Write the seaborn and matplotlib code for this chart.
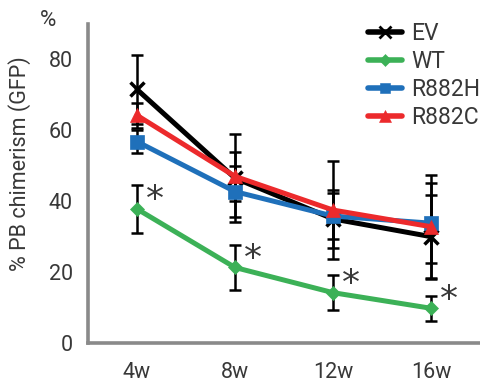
import matplotlib
matplotlib.use("Agg")
import matplotlib.pyplot as plt
import seaborn as sns
import pandas as pd
import numpy as np
from matplotlib.lines import Line2D

weeks = ["4w", "8w", "12w", "16w"]
groups = ["EV", "WT", "R882H", "R882C"]
ev = [71.5, 46.5, 35.0, 30.0]
ev_err = [9.6, 12.5, 8.2, 11.8]
wt = [37.8, 21.3, 14.2, 9.8]
wt_err = [6.9, 6.3, 4.9, 3.6]
r882h = [56.8, 42.7, 35.8, 33.8]
r882h_err = [3.3, 7.3, 6.4, 11.3]
r882c = [64.2, 47.0, 37.5, 32.8]
r882c_err = [3.5, 7.0, 13.7, 14.7]
significant = ["*", "*", "*", "*"]

values = {"EV": ev, "WT": wt, "R882H": r882h, "R882C": r882c}
errors = {"EV": ev_err, "WT": wt_err, "R882H": r882h_err, "R882C": r882c_err}

rows = []
for g in groups:
    for i, w in enumerate(weeks):
        rows.append({"group": g, "week": w, "pos": i, "value": values[g][i], "err": errors[g][i]})
df = pd.DataFrame(rows)

sns.set_theme(style="white")
plt.rcParams["font.family"] = ["Roboto", "DejaVu Sans"]

colors = {"EV": "#000000", "WT": "#3cb157", "R882H": "#1f70ba", "R882C": "#ec2a2c"}
markers = {"EV": "x", "WT": "D", "R882H": "s", "R882C": "^"}
msizes = {"EV": 10, "WT": 7.5, "R882H": 9.5, "R882C": 10.5}
mews = {"EV": 2.5, "WT": 0.5, "R882H": 0.5, "R882C": 0.5}
text_color = "#383838"

fig = plt.figure(figsize=(4.81, 3.85), dpi=100)
ax = fig.add_axes([0.183, 0.109, 0.815, 0.829])

# error bars (black)
for g in groups:
    sub = df[df.group == g]
    ax.errorbar(sub["pos"], sub["value"], yerr=sub["err"], fmt="none",
                ecolor="black", elinewidth=1.8, capsize=4.5, capthick=1.8, zorder=2)

draw_order = ["WT", "EV", "R882H", "R882C"]
for g in draw_order:
    sub = df[df.group == g]
    sns.lineplot(data=sub, x="pos", y="value", ax=ax, color=colors[g],
                 marker=markers[g], markersize=msizes[g],
                 markeredgecolor=colors[g], markeredgewidth=mews[g],
                 linewidth=3.6, label=g, zorder=3, legend=False)

# significance asterisks
for i, s in enumerate(significant):
    ax.annotate(s, xy=(i, wt[i]), xytext=(13, -1),
                textcoords="offset points", ha="center", va="baseline",
                fontsize=26, color=text_color, fontfamily="DejaVu Sans")

ax.set_xlim(-0.5, 3.5)
ax.set_ylim(0, 90)
ax.set_xticks(range(len(weeks)))
ax.set_xticklabels(weeks)
ax.set_xticks([-0.5, 0.5, 1.5, 2.5, 3.5], minor=True)
ax.set_yticks([0, 20, 40, 60, 80])
ax.set_yticks([10, 30, 50, 70], minor=True)

axis_color = "#8a8a8a"
for side in ["top", "right"]:
    ax.spines[side].set_visible(False)
for side in ["left", "bottom"]:
    ax.spines[side].set_color(axis_color)
    ax.spines[side].set_linewidth(2.6)

ax.tick_params(axis="x", which="major", length=0, labelsize=15.5, labelcolor=text_color, pad=14)
ax.tick_params(axis="x", which="minor", length=7, width=2.4, color=axis_color, direction="out")
ax.tick_params(axis="y", which="both", length=7, width=2.4, color=axis_color, direction="out",
               labelsize=15.5, labelcolor=text_color, pad=4)
ax.grid(False)

ax.set_xlabel("")
ax.set_ylabel("% PB chimerism (GFP)", fontsize=15.5, color=text_color)
ax.yaxis.label.set_va("center")
ax.yaxis.set_label_coords(-0.175, 0.561)
fig.text(48 / 481, 1 - 21 / 385, "%", fontsize=16, color=text_color, ha="center", va="center")

handles = [Line2D([], [], color=colors[g], marker=markers[g], markersize=msizes[g] * 0.8,
                  markeredgecolor=colors[g], markeredgewidth=mews[g] * 0.8, linewidth=4)
           for g in groups]
leg = ax.legend(handles, groups, loc="upper left", bbox_to_anchor=(368 / 481, 1 - 22 / 385),
                bbox_transform=fig.transFigure, frameon=False, fontsize=16.5,
                handlelength=1.5, handletextpad=0.4, labelspacing=0.22,
                borderpad=0, borderaxespad=0)
for t in leg.get_texts():
    t.set_color(text_color)

fig.savefig("out.png", dpi=100)
